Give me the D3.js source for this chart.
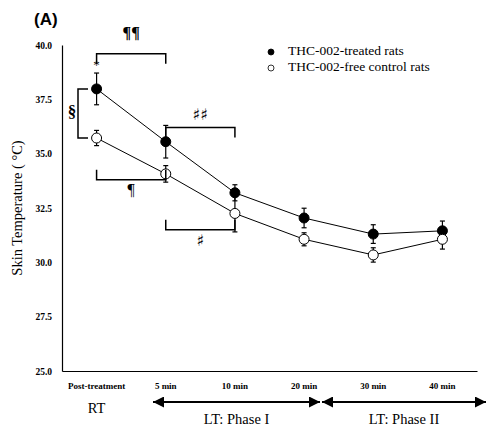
<!DOCTYPE html>
<html>
<head>
<meta charset="utf-8">
<script src="https://cdn.jsdelivr.net/npm/d3@7"></script>
<style>
  body { margin: 0; background: #fff; }
  text { font-family: "Liberation Serif", "Times New Roman", serif; }
</style>
</head>
<body>
<svg id="plot" width="487" height="429"></svg>
<script>
const categories = ["Post-treatment", "5 min", "10 min", "20 min", "30 min", "40 min"]
const treated = [37.98, 35.55, 33.2, 32.04, 31.3, 31.45]
const treatedErr = [0.73, 0.75, 0.37, 0.45, 0.43, 0.45]
const control = [35.72, 34.07, 32.25, 31.06, 30.34, 31.06]
const controlErr = [0.35, 0.38, 0.85, 0.3, 0.33, 0.45]
const yTicks = [25, 27.5, 30, 32.5, 35, 37.5, 40]
const seriesNames = ["THC-002-treated rats", "THC-002-free control rats"]

const width = 487
const height = 429
const margin = ({ top: 45, right: 10, bottom: 59, left: 62 })

const svg = d3.select("#plot")

const x = d3.scaleBand()
    .domain(categories)
    .range([margin.left, 477])

const xc = d => x(d) + x.bandwidth() / 2

const y = d3.scaleLinear()
    .domain([25, 40])
    .range([height - margin.bottom + 1, margin.top])

// axes
svg.append("g")
    .attr("transform", `translate(${margin.left},0)`)
    .call(d3.axisLeft(y).tickValues(yTicks).tickFormat(d3.format(".1f")).tickSize(0).tickPadding(10))
    .call(g => g.select(".domain").attr("stroke", "#000").attr("stroke-width", 1.2))
    .call(g => g.selectAll("text")
        .attr("font-family", "Liberation Serif")
        .attr("font-weight", "bold")
        .attr("font-size", 9.5)
        .attr("fill", "#000"))

svg.append("g")
    .attr("transform", `translate(0,${y(25)})`)
    .call(d3.axisBottom(x).tickSize(0).tickPadding(12))
    .call(g => g.select(".domain").attr("stroke", "#000").attr("stroke-width", 1.2))
    .call(g => g.selectAll("text")
        .attr("font-family", "Liberation Serif")
        .attr("font-weight", "bold")
        .attr("font-size", 9)
        .attr("fill", "#000"))

svg.append("text")
    .attr("transform", `translate(22,${y(32.5)}) rotate(-90)`)
    .attr("text-anchor", "middle")
    .attr("font-size", 14.5)
    .text("Skin Temperature ( °C)")

svg.append("text")
    .attr("x", 34).attr("y", 25)
    .attr("font-weight", "bold")
    .attr("font-size", 17)
    .style("font-family", "'Liberation Sans', Arial, sans-serif")
    .text("(A)")

// series
const line = d3.line()
    .x((d, i) => xc(categories[i]))
    .y(d => y(d))

const series = [
    { vals: treated, err: treatedErr, fill: "#000" },
    { vals: control, err: controlErr, fill: "#fff" }
]

series.forEach(s => {
    svg.append("path")
        .datum(s.vals)
        .attr("fill", "none")
        .attr("stroke", "#000")
        .attr("stroke-width", 1)
        .attr("d", line)
})

series.forEach(s => {
    const g = svg.append("g")
    s.vals.forEach((v, i) => {
        const cx = xc(categories[i])
        const y0 = y(v + s.err[i]), y1 = y(v - s.err[i])
        g.append("line").attr("x1", cx).attr("x2", cx).attr("y1", y0).attr("y2", y1)
            .attr("stroke", "#000").attr("stroke-width", 1.2)
        g.append("line").attr("x1", cx - 2.5).attr("x2", cx + 2.5).attr("y1", y0).attr("y2", y0)
            .attr("stroke", "#000").attr("stroke-width", 1.2)
        g.append("line").attr("x1", cx - 2.5).attr("x2", cx + 2.5).attr("y1", y1).attr("y2", y1)
            .attr("stroke", "#000").attr("stroke-width", 1.2)
    })
    g.selectAll("circle")
        .data(s.vals)
        .join("circle")
        .attr("cx", (d, i) => xc(categories[i]))
        .attr("cy", d => y(d))
        .attr("r", 5)
        .attr("fill", s.fill)
        .attr("stroke", "#000")
        .attr("stroke-width", 1)
})

// significance brackets
const marks = svg.append("g").style("opacity", 0.999)
function bracket(c1, c2, level, dir, label, ly, font, size, weight) {
    const x1 = xc(c1), x2 = xc(c2), yy = y(level)
    svg.append("path")
        .attr("d", `M${x1},${yy + dir * 10}V${yy}H${x2}V${yy + dir * 10}`)
        .attr("fill", "none").attr("stroke", "#000").attr("stroke-width", 1.5)
    marks.append("text")
        .attr("x", (x1 + x2) / 2).attr("y", y(ly))
        .attr("text-anchor", "middle")
        .attr("dominant-baseline", "middle")
        .attr("font-size", size)
        .attr("font-weight", weight)
        .attr("fill", "#000")
        .style("font-family", font)
        .text(label)
}
bracket("Post-treatment", "5 min", 39.6, 1, "¶¶", 40.5, "'Liberation Serif'", 16, "bold")
bracket("5 min", "10 min", 36.2, 1, "♯♯", 36.75, "'DejaVu Sans'", 16, "normal")
bracket("Post-treatment", "5 min", 33.8, -1, "¶", 33.25, "'Liberation Serif'", 16, "normal")
bracket("5 min", "10 min", 31.5, -1, "♯", 30.95, "'DejaVu Sans'", 16, "normal")

// § bracket between the two post-treatment points
const sx = 78
svg.append("path")
    .attr("d", `M${sx + 10},${y(treated[0])}H${sx}V${y(control[0])}H${sx + 10}`)
    .attr("fill", "none").attr("stroke", "#000").attr("stroke-width", 1.5)
marks.append("text")
    .attr("x", sx - 6).attr("y", (y(treated[0]) + y(control[0])) / 2)
    .attr("text-anchor", "middle")
    .attr("dominant-baseline", "middle")
    .attr("font-size", 17)
    .attr("font-weight", "bold")
    .text("§")

svg.append("text")
    .attr("x", xc("Post-treatment")).attr("y", y(treated[0] + treatedErr[0]) - 4)
    .attr("text-anchor", "middle")
    .attr("font-size", 13)
    .text("*")

// legend
const legend = svg.append("g")
seriesNames.forEach((name, i) => {
    legend.append("circle")
        .attr("cx", 271).attr("cy", 52 + i * 16)
        .attr("r", 3)
        .attr("fill", series[i].fill)
        .attr("stroke", "#000").attr("stroke-width", 0.8)
    legend.append("text")
        .attr("x", 288).attr("y", 52 + i * 16)
        .attr("dominant-baseline", "middle")
        .attr("font-size", 13.5)
        .text(name)
})

// phase arrows
svg.append("defs").append("marker")
    .attr("id", "tri")
    .attr("viewBox", "0 0 10 10")
    .attr("refX", 10).attr("refY", 5)
    .attr("markerWidth", 11).attr("markerHeight", 11)
    .attr("markerUnits", "userSpaceOnUse")
    .attr("orient", "auto-start-reverse")
    .append("path").attr("d", "M0,0L10,5L0,10Z").attr("fill", "#000")

const ay = 402
const phases = [
    { x1: 153, x2: 320, label: "LT: Phase I" },
    { x1: 322, x2: 486, label: "LT: Phase II" }
]
phases.forEach(p => {
    svg.append("line")
        .attr("x1", p.x1).attr("x2", p.x2).attr("y1", ay).attr("y2", ay)
        .attr("stroke", "#000").attr("stroke-width", 2)
        .attr("marker-start", "url(#tri)")
        .attr("marker-end", "url(#tri)")
    svg.append("text")
        .attr("x", (p.x1 + p.x2) / 2).attr("y", 421)
        .attr("text-anchor", "middle")
        .attr("dominant-baseline", "middle")
        .attr("font-size", 14.5)
        .text(p.label)
})
svg.append("text")
    .attr("x", xc("Post-treatment")).attr("y", 410)
    .attr("text-anchor", "middle")
    .attr("dominant-baseline", "middle")
    .attr("font-size", 14.5)
    .text("RT")
</script>
</body>
</html>
